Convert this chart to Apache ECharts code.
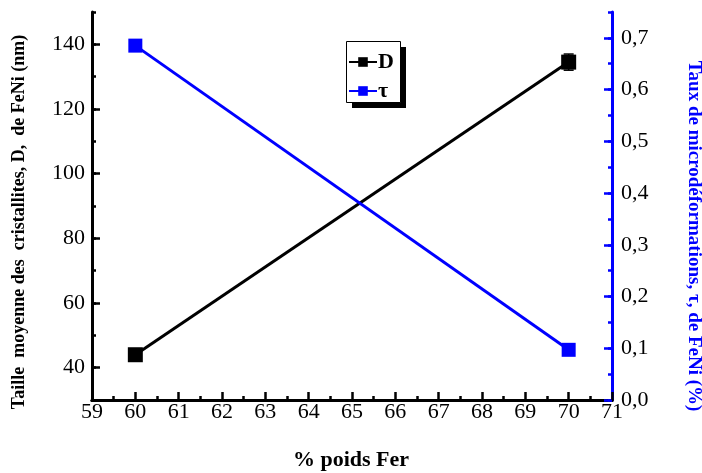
<!DOCTYPE html>
<html>
<head>
<meta charset="utf-8">
<script src="https://cdn.jsdelivr.net/npm/echarts@6/dist/echarts.min.js"></script>
<style>html,body{margin:0;padding:0;background:#fff;}#c{width:702px;height:473px;}</style>
</head>
<body>
<div id="c"></div>
<script>
// Data
var xValues = [60, 70];
var sizeD = [44, 134.5];
var sizeDErr = [0, 2.5];
var strainTau = [0.685, 0.097];
var leftTicks = [40, 60, 80, 100, 120, 140];
var rightTicks = [0, 0.1, 0.2, 0.3, 0.4, 0.5, 0.6, 0.7];

var FONT = '"Liberation Serif", "Times New Roman", serif';
var BLUE = '#0000ff';

var chart = echarts.init(document.getElementById('c'), null, {renderer: 'canvas'});

var seriesD = xValues.map(function (x, i) { return [x, sizeD[i]]; });
var seriesT = xValues.map(function (x, i) { return [x, strainTau[i]]; });
var errData = xValues.map(function (x, i) { return [x, sizeD[i] - sizeDErr[i], sizeD[i] + sizeDErr[i]]; });

var option = {
  animation: false,
  backgroundColor: '#fff',
  grid: {left: 92, right: 90, top: 12, bottom: 73},
  legend: {
    orient: 'vertical',
    left: 348, top: 51, z: 10,
    itemWidth: 28, itemHeight: 12, itemGap: 7,
    padding: 0,
    textStyle: {fontFamily: FONT, fontWeight: 'bold', fontSize: 22, color: '#000', padding: [0, 0, 0, -4]},
    data: ['D', 'τ']
  },
  xAxis: [{
    type: 'value', min: 59, max: 71, interval: 1,
    axisLine: {show: true, lineStyle: {color: '#000', width: 3}},
    axisTick: {show: true, inside: true, length: 8, lineStyle: {color: '#000', width: 2.5}},
    minorTick: {show: true, splitNumber: 2, length: 4, lineStyle: {color: '#000', width: 2.5}},
    axisLabel: {fontFamily: FONT, fontSize: 22, color: '#000', margin: 1},
    splitLine: {show: false}
  }, {
    type: 'value', min: 59, max: 71, interval: 1, position: 'top',
    axisLine: {show: true, lineStyle: {color: '#000', width: 3}},
    axisTick: {show: false}, axisLabel: {show: false}, splitLine: {show: false}
  }],
  yAxis: [{
    type: 'value', min: 30, max: 150, interval: 10, position: 'left',
    axisLine: {show: true, lineStyle: {color: '#000', width: 3}},
    axisTick: {show: true, inside: true, length: 8, customValues: leftTicks, lineStyle: {color: '#000', width: 2.5}},
    axisLabel: {fontFamily: FONT, fontSize: 22, color: '#000', margin: 7, customValues: leftTicks},
    splitLine: {show: false}
  }, {
    type: 'value', min: 0, max: 0.75, interval: 0.05, position: 'right',
    axisLine: {show: true, lineStyle: {color: BLUE, width: 3}},
    axisTick: {show: true, inside: true, length: 8, customValues: rightTicks, lineStyle: {color: BLUE, width: 2.5}},
    axisLabel: {fontFamily: FONT, fontSize: 22, color: '#000', margin: 9, customValues: rightTicks,
      formatter: function (v) { return v.toFixed(1).replace('.', ','); }},
    splitLine: {show: false}
  }, {
    type: 'value', min: 30, max: 150, interval: 10, position: 'left',
    axisLine: {show: false},
    axisTick: {show: true, inside: true, length: 4, lineStyle: {color: '#000', width: 2.5}},
    axisLabel: {show: false}, splitLine: {show: false}
  }, {
    type: 'value', min: 0, max: 0.75, interval: 0.05, position: 'right',
    axisLine: {show: false},
    axisTick: {show: true, inside: true, length: 4, lineStyle: {color: BLUE, width: 2.5}},
    axisLabel: {show: false}, splitLine: {show: false}
  }],
  series: [{
    name: 'D', type: 'line', xAxisIndex: 0, yAxisIndex: 0,
    data: seriesD, symbol: 'rect', symbolSize: 15,
    lineStyle: {color: '#000', width: 3}, itemStyle: {color: '#000'}, z: 3
  }, {
    name: 'errD', type: 'custom', xAxisIndex: 0, yAxisIndex: 0, data: errData, z: 2,
    renderItem: function (params, api) {
      var lo = api.coord([api.value(0), api.value(1)]);
      var hi = api.coord([api.value(0), api.value(2)]);
      var hw = 5;
      var st = {stroke: '#000', lineWidth: 1.5};
      return {type: 'group', children: [
        {type: 'line', shape: {x1: lo[0], y1: lo[1], x2: hi[0], y2: hi[1]}, style: st},
        {type: 'line', shape: {x1: lo[0] - hw, y1: lo[1], x2: lo[0] + hw, y2: lo[1]}, style: st},
        {type: 'line', shape: {x1: hi[0] - hw, y1: hi[1], x2: hi[0] + hw, y2: hi[1]}, style: st}
      ]};
    }
  }, {
    name: 'τ', type: 'line', xAxisIndex: 0, yAxisIndex: 1,
    data: seriesT, symbol: 'rect', symbolSize: 14,
    lineStyle: {color: BLUE, width: 3}, itemStyle: {color: BLUE}, z: 4
  }],
  graphic: [{
    type: 'rect', z: 1, shape: {x: 352, y: 47, width: 54, height: 61},
    style: {fill: '#000'}
  }, {
    type: 'rect', z: 2, shape: {x: 346.5, y: 41.5, width: 54, height: 61},
    style: {fill: '#fff', stroke: '#000', lineWidth: 1}
  }, {
    type: 'text', left: 'center', x: 0, top: 449,
    style: {text: '% poids Fer', font: 'bold 22px ' + FONT, fill: '#000'}
  }, {
    type: 'text', x: 19, y: 222, rotation: Math.PI / 2,
    style: {text: 'Taille  moyenne des  cristallites, D,  de FeNi (nm)', font: 'bold 18px ' + FONT, fill: '#000',
      align: 'center', verticalAlign: 'middle'}
  }, {
    type: 'text', x: 694, y: 236, rotation: -Math.PI / 2,
    style: {text: 'Taux de microdéformations, τ, de FeNi (%)', font: 'bold 19px ' + FONT, fill: BLUE,
      align: 'center', verticalAlign: 'middle'}
  }]
};
chart.setOption(option);
</script>
</body>
</html>
